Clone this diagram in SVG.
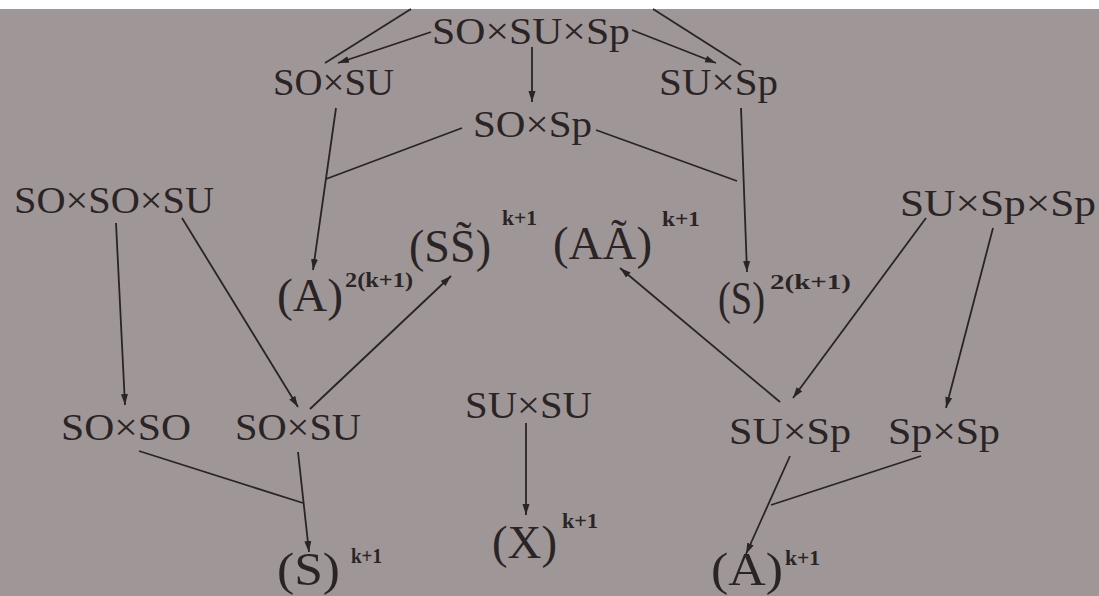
<svg xmlns="http://www.w3.org/2000/svg" width="1099" height="596" viewBox="0 0 1099 596">
<style>
.t{font-family:"Liberation Serif","Times New Roman",serif;fill:#2a2425}
.n{font-size:38px}
.b{font-size:46px}
.s{font-size:22px;font-weight:bold}
.c line{stroke:#2a2425;stroke-width:1.8;fill:none}
.a{marker-end:url(#ah)}
</style>
<defs>
<marker id="ah" markerUnits="userSpaceOnUse" markerWidth="12" markerHeight="8" refX="11" refY="4" orient="auto">
<path d="M0,0.5 L11,4 L0,7.5 z" fill="#2a2425"/>
</marker>
</defs>
<rect x="0" y="0" width="1099" height="596" fill="#9f9697"/>
<rect x="0" y="0" width="1099" height="9" fill="#ffffff"/>
<g class="c">
<line x1="411" y1="9" x2="325" y2="63"/>
<line class="a" x1="431" y1="32" x2="338" y2="63"/>
<line class="a" x1="632" y1="30" x2="716" y2="63"/>
<line x1="653" y1="9" x2="741" y2="65"/>
<line class="a" x1="532" y1="47" x2="532" y2="102"/>
<line x1="462" y1="128" x2="326" y2="179"/>
<line x1="596" y1="130" x2="737" y2="181"/>
<line class="a" x1="336" y1="108" x2="313" y2="270"/>
<line class="a" x1="741" y1="108" x2="747" y2="272"/>
<line class="a" x1="116" y1="223" x2="125" y2="405"/>
<line class="a" x1="182" y1="218" x2="298" y2="407"/>
<line class="a" x1="310" y1="409" x2="451" y2="276"/>
<line class="a" x1="780" y1="402" x2="620" y2="268"/>
<line class="a" x1="926" y1="218" x2="793" y2="398"/>
<line class="a" x1="993" y1="228" x2="946" y2="408"/>
<line x1="139" y1="451" x2="303" y2="503"/>
<line class="a" x1="298" y1="452" x2="309" y2="552"/>
<line class="a" x1="526" y1="423" x2="526" y2="515"/>
<line class="a" x1="790" y1="456" x2="746" y2="554"/>
<line x1="921" y1="456" x2="771" y2="505"/>
</g>
<g id="n-so-su-sp"><text class="t n" x="432" y="44" textLength="198" lengthAdjust="spacingAndGlyphs">SO×SU×Sp</text></g>
<g id="n-so-su-top"><text class="t n" x="273" y="95" textLength="121" lengthAdjust="spacingAndGlyphs">SO×SU</text></g>
<g id="n-su-sp-top"><text class="t n" x="659" y="95" textLength="119" lengthAdjust="spacingAndGlyphs">SU×Sp</text></g>
<g id="n-so-sp"><text class="t n" x="473" y="137" textLength="119" lengthAdjust="spacingAndGlyphs">SO×Sp</text></g>
<g id="n-so-so-su"><text class="t n" x="14" y="213" textLength="200" lengthAdjust="spacingAndGlyphs">SO×SO×SU</text></g>
<g id="n-su-sp-sp"><text class="t n" x="900" y="216" textLength="196" lengthAdjust="spacingAndGlyphs">SU×Sp×Sp</text></g>
<g id="n-ss"><text class="t b" x="409" y="262" textLength="82" lengthAdjust="spacingAndGlyphs">(SS̃)</text><text class="t s" x="502" y="225" textLength="35" lengthAdjust="spacingAndGlyphs">k+1</text></g>
<g id="n-aa"><text class="t b" x="553" y="259" textLength="99" lengthAdjust="spacingAndGlyphs">(AÃ)</text><text class="t s" x="662" y="226" textLength="38" lengthAdjust="spacingAndGlyphs">k+1</text></g>
<g id="n-a2"><text class="t b" x="277" y="311" textLength="66" lengthAdjust="spacingAndGlyphs">(A)</text><text class="t s" x="345" y="287" textLength="68" lengthAdjust="spacingAndGlyphs">2(k+1)</text></g>
<g id="n-s2"><text class="t b" x="718" y="314" textLength="47" lengthAdjust="spacingAndGlyphs">(S)</text><text class="t s" x="770" y="289" textLength="81" lengthAdjust="spacingAndGlyphs">2(k+1)</text></g>
<g id="n-so-so"><text class="t n" x="61" y="440" textLength="130" lengthAdjust="spacingAndGlyphs">SO×SO</text></g>
<g id="n-so-su-bot"><text class="t n" x="235" y="440" textLength="126" lengthAdjust="spacingAndGlyphs">SO×SU</text></g>
<g id="n-su-su"><text class="t n" x="465" y="418" textLength="127" lengthAdjust="spacingAndGlyphs">SU×SU</text></g>
<g id="n-su-sp-bot"><text class="t n" x="729" y="444" textLength="122" lengthAdjust="spacingAndGlyphs">SU×Sp</text></g>
<g id="n-sp-sp"><text class="t n" x="888" y="444" textLength="112" lengthAdjust="spacingAndGlyphs">Sp×Sp</text></g>
<g id="n-s1"><text class="t b" x="277" y="585" textLength="63" lengthAdjust="spacingAndGlyphs">(S)</text><text class="t s" x="351" y="563" textLength="31" lengthAdjust="spacingAndGlyphs">k+1</text></g>
<g id="n-x1"><text class="t b" x="492" y="558" textLength="65" lengthAdjust="spacingAndGlyphs">(X)</text><text class="t s" x="562" y="528" textLength="36" lengthAdjust="spacingAndGlyphs">k+1</text></g>
<g id="n-a1"><text class="t b" x="711" y="585" textLength="72" lengthAdjust="spacingAndGlyphs">(A)</text><text class="t s" x="785" y="565" textLength="35" lengthAdjust="spacingAndGlyphs">k+1</text></g>
</svg>
